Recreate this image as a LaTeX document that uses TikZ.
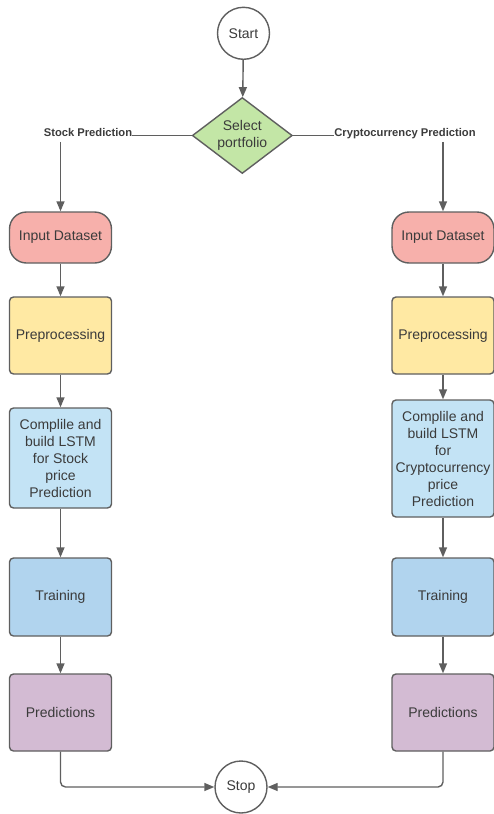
\documentclass[tikz,border=0pt]{standalone}
\usepackage{fontspec}
\setmainfont{Liberation Sans}
\usetikzlibrary{arrows.meta,shapes.geometric}
\definecolor{bordc}{HTML}{5F5F5F}
\definecolor{txtc}{HTML}{3B3B3B}
\definecolor{greenc}{HTML}{C3E6A6}
\definecolor{pinkc}{HTML}{F7B0AB}
\definecolor{yellowc}{HTML}{FFE9A3}
\definecolor{lbluec}{HTML}{C3E3F5}
\definecolor{bluec}{HTML}{B1D4EE}
\definecolor{purplec}{HTML}{D3BBD3}
\tikzset{
  base/.style={draw=bordc, line width=1.4pt, text=txtc, align=center, inner sep=0pt,
    font=\fontsize{14}{17}\selectfont},
  term/.style={base, circle, fill=white, minimum size=52pt},
  decide/.style={base, diamond, fill=greenc, minimum width=100pt, minimum height=76pt, aspect=1.316},
  stadium/.style={base, rectangle, rounded corners=17pt, fill=pinkc, minimum width=102pt, minimum height=51pt},
  boxc/.style={base, rectangle, rounded corners=4pt, minimum width=102pt},
  lbl/.style={font=\fontsize{11.2}{13}\selectfont\bfseries, text=txtc, inner xsep=0pt, inner ysep=3pt,
    text height=8pt, text depth=2.5pt},
  ln/.style={draw=bordc, line width=1.4pt},
  arr/.style={ln, -{Triangle[length=10pt,width=8pt]}}
}
\begin{document}
\begin{tikzpicture}[x=1pt,y=-1pt]
\useasboundingbox (0,0) rectangle (493,814);
\node[term] (start) at (243.5,33.3) {Start};
\node[decide] (sel) at (242.3,135.5) {Select\\portfolio};
\node[lbl] (lblS) at (88,133.5) {Stock Prediction};
\node[lbl] (lblC) at (405,133.5) {Cryptocurrency Prediction};

\node[stadium] (inL) at (60.5,237.5) {Input Dataset};
\node[boxc, fill=yellowc, minimum height=77pt] (preL) at (60.5,335.5) {Preprocessing};
\node[boxc, fill=lbluec, minimum height=100pt] (cmpL) at (60.5,458) {Complile and\\build LSTM\\for Stock\\price\\Prediction};
\node[boxc, fill=bluec, minimum height=78pt] (trnL) at (60.5,597) {Training};
\node[boxc, fill=purplec, minimum height=77pt] (prdL) at (60.5,712.5) {Predictions};

\node[stadium] (inR) at (443,237.5) {Input Dataset};
\node[boxc, fill=yellowc, minimum height=77pt] (preR) at (443,335.5) {Preprocessing};
\node[boxc, fill=lbluec, minimum height=117pt] (cmpR) at (443,458.5) {Complile and\\build LSTM\\for\\Cryptocurrency\\price\\Prediction};
\node[boxc, fill=bluec, minimum height=78pt] (trnR) at (443,597) {Training};
\node[boxc, fill=purplec, minimum height=77pt] (prdR) at (443,712.5) {Predictions};

\node[term] (stop) at (241,787) {Stop};

\draw[arr] (start) -- (sel);
\draw[ln] (sel.west) -- (sel.west -| lblS.east);
\draw[ln] (sel.east) -- (sel.east -| lblC.west);
\draw[arr] (lblS.south -| inL.north) -- (inL.north);
\draw[arr] (lblC.south -| inR.north) -- (inR.north);

\draw[arr] (inL) -- (preL);
\draw[arr] (preL) -- (cmpL);
\draw[arr] (cmpL) -- (trnL);
\draw[arr] (trnL) -- (prdL);

\draw[arr] (inR) -- (preR);
\draw[arr] (preR) -- (cmpR);
\draw[arr] (cmpR) -- (trnR);
\draw[arr] (trnR) -- (prdR);

\draw[arr, rounded corners=5pt] (prdL.south) |- (stop.west);
\draw[arr, rounded corners=5pt] (prdR.south) |- (stop.east);
\end{tikzpicture}
\end{document}
